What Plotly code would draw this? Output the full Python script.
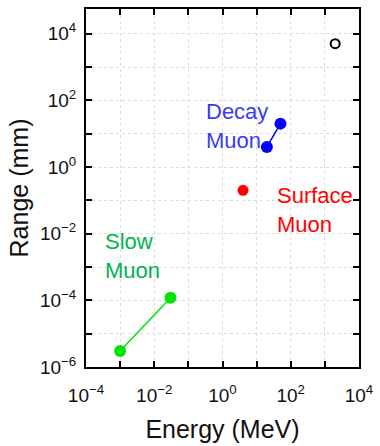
import plotly.graph_objects as go

# Muon beam types: kinetic energy (MeV) vs. range (mm)
slow_energy = [1e-3, 0.03]
slow_range = [3e-6, 1.2e-4]

surface_energy = [4.0]
surface_range = [0.2]

decay_energy = [20.0, 50.0]
decay_range = [4.0, 20.0]

cosmic_energy = [2000.0]
cosmic_range = [5000.0]

x_label_exps = [-4, -2, 0, 2, 4]
y_label_exps = [-6, -4, -2, 0, 2, 4]
x_decades = list(range(-4, 5))
y_decades = list(range(-6, 5))

X_RANGE = [-4, 4]
Y_RANGE = [-6, 4.74]

FONT = "Liberation Sans, Arial, sans-serif"


def power_label(e):
    return "10<sup>%s</sup>" % (str(e).replace("-", "\u2212"))


def minor_vals(lo, hi):
    vals = []
    for e in range(lo, hi):
        for m in range(2, 10):
            vals.append(m * 10.0 ** e)
    return vals


fig = go.Figure()

fig.add_trace(go.Scatter(
    x=slow_energy, y=slow_range, mode="lines+markers",
    line=dict(color="#00e400", width=1.5),
    marker=dict(color="#00e400", size=12),
))
fig.add_trace(go.Scatter(
    x=decay_energy, y=decay_range, mode="lines+markers",
    line=dict(color="#0000ff", width=1.5),
    marker=dict(color="#0000ff", size=12),
))
fig.add_trace(go.Scatter(
    x=surface_energy, y=surface_range, mode="markers",
    marker=dict(color="#ff0000", size=11),
))
fig.add_trace(go.Scatter(
    x=cosmic_energy, y=cosmic_range, mode="markers",
    marker=dict(color="white", size=9, line=dict(color="black", width=2)),
))
# empty trace that holds the decade grid / tick overlay axes
fig.add_trace(go.Scatter(x=[], y=[], xaxis="x2", yaxis="y2", hoverinfo="skip"))

label_font = dict(family=FONT, size=22)
fig.add_annotation(x=-0.53, y=1.22, xref="x", yref="y", text="Decay<br>Muon",
                   showarrow=False, xanchor="left", yanchor="middle", align="left",
                   font=dict(label_font, color="#3a3af5"))
fig.add_annotation(x=1.55, y=-1.28, xref="x", yref="y", text="Surface<br>Muon",
                   showarrow=False, xanchor="left", yanchor="middle", align="left",
                   font=dict(label_font, color="#ff0000"))
fig.add_annotation(x=-3.51, y=-2.67, xref="x", yref="y", text="Slow<br>Muon",
                   showarrow=False, xanchor="left", yanchor="middle", align="left",
                   font=dict(label_font, color="#00b450"))

label_axis = dict(
    type="log",
    showline=True, linecolor="black", linewidth=2, mirror="allticks",
    ticks="inside", ticklen=6, tickwidth=1.5, tickcolor="black",
    showgrid=False, zeroline=False,
    tickfont=dict(family=FONT, size=19, color="#111111"),
)
grid_axis = dict(
    type="log",
    showline=False, mirror="allticks", showticklabels=False,
    ticks="inside", ticklen=6, tickwidth=1.5, tickcolor="black",
    showgrid=True, gridcolor="#dcdcdc", griddash="dot", gridwidth=1,
    zeroline=False,
    minor=dict(ticks="inside", ticklen=3, tickwidth=1, tickcolor="black",
               showgrid=False),
)

fig.update_layout(
    xaxis=dict(
        label_axis,
        range=X_RANGE,
        tickvals=[10.0 ** e for e in x_label_exps],
        ticktext=[power_label(e) for e in x_label_exps],
        ticklabelstandoff=10,
        title=dict(text="Energy (MeV)", font=dict(family=FONT, size=25, color="#111111"),
                   standoff=16),
    ),
    yaxis=dict(
        label_axis,
        range=Y_RANGE,
        tickvals=[10.0 ** e for e in y_label_exps],
        ticktext=[power_label(e) for e in y_label_exps],
        ticklabelstandoff=4,
        title=dict(text="Range (mm)", font=dict(family=FONT, size=25, color="#111111"),
                   standoff=4),
    ),
    xaxis2=dict(
        grid_axis, overlaying="x", anchor="y2", range=X_RANGE,
        tickvals=[10.0 ** e for e in x_decades],
        minor=dict(tickvals=minor_vals(-4, 4)),
    ),
    yaxis2=dict(
        grid_axis, overlaying="y", anchor="x2", range=Y_RANGE,
        tickvals=[10.0 ** e for e in y_decades],
        minor=dict(tickvals=minor_vals(-6, 5)),
    ),
    width=380, height=446,
    margin=dict(l=86, r=18, t=7, b=77),
    paper_bgcolor="white", plot_bgcolor="white",
    showlegend=False,
)

fig.write_html("out.html")
